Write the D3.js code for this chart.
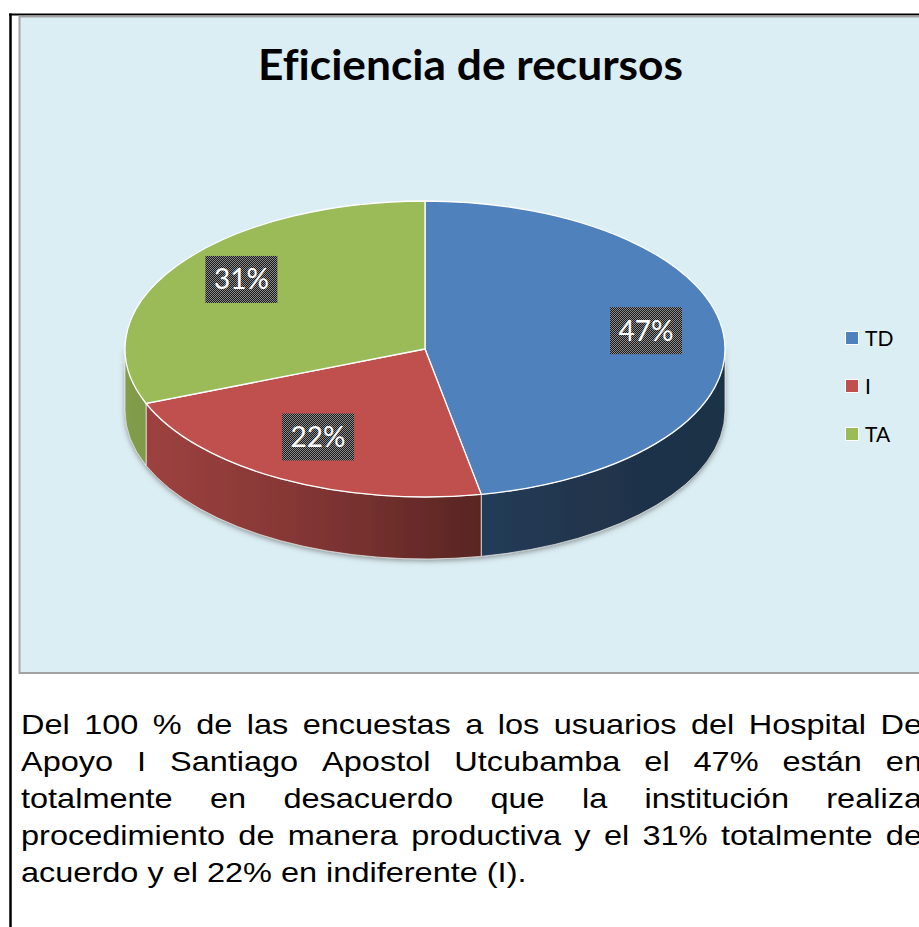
<!DOCTYPE html>
<html>
<head>
<meta charset="utf-8">
<script src="https://cdn.jsdelivr.net/npm/d3@7"></script>
<style>
  html, body { margin: 0; padding: 0; background: #ffffff; }
  svg { display: block; }
  text { font-variant-ligatures: none; }
</style>
</head>
<body>
<div id="chart"></div>
<script>
// ---- data ----
var categories = ["TD", "I", "TA"];
var values = [47, 22, 31];
var colors = ["#4F81BD", "#C0504D", "#9BBB59"];
var title = "Eficiencia de recursos";
var bodyLines = [
    "Del 100 % de las encuestas a los usuarios del Hospital De",
    "Apoyo I Santiago Apostol Utcubamba el 47% están en",
    "totalmente en desacuerdo que la institución realiza",
    "procedimiento de manera productiva y el 31% totalmente de",
    "acuerdo y el 22% en indiferente (I)."
];

var width = 919, height = 927;
var svg = d3.select("#chart").append("svg")
    .attr("width", width)
    .attr("height", height);
var defs = svg.append("defs");

// page / cell borders
svg.append("line").attr("x1", 9).attr("x2", width).attr("y1", 14.5).attr("y2", 14.5)
    .attr("stroke", "#000").attr("stroke-width", 2);
svg.append("line").attr("x1", 10.5).attr("x2", 10.5).attr("y1", 13.5).attr("y2", height)
    .attr("stroke", "#000").attr("stroke-width", 2.5);

// chart area
svg.append("rect")
    .attr("x", 19.5).attr("y", 16.5)
    .attr("width", width + 10).attr("height", 656.5)
    .attr("fill", "#DBEEF3")
    .attr("stroke", "#A3A3A3").attr("stroke-width", 2);

// title, scaled horizontally to fit the target width
var titleText = svg.append("text")
    .attr("x", 470.5).attr("y", 80)
    .attr("text-anchor", "middle")
    .attr("font-family", "Lato, 'Open Sans', sans-serif")
    .attr("font-weight", "bold")
    .attr("font-size", 41.5)
    .attr("fill", "#000")
    .text(title);
fitX(titleText, 425, 470.5);

function fitX(sel, targetW, ax) {
    var w = sel.node().getBBox().width;
    var s = targetW / w;
    sel.attr("transform", "translate(" + ax + ",0) scale(" + s + ",1) translate(" + (-ax) + ",0)");
}

function shade(c, f) {
    var r = d3.rgb(c);
    return d3.rgb(r.r * f, r.g * f, r.b * f).formatHex();
}

// ---- pie geometry ----
var cx = 425, cy = 349, rx = 300, ry = 148, depth = 62;

var pie = d3.pie().sort(null).value(function (d) { return d; })
    .startAngle(0).endAngle(2 * Math.PI);
var arcs = pie(values);

function pt(a, dy) {
    return [cx + rx * Math.sin(a), cy - ry * Math.cos(a) + (dy || 0)];
}

// side shading gradients (lighter on the left, darker on the right)
arcs.forEach(function (d, i) {
    var g = defs.append("linearGradient")
        .attr("id", "side" + i)
        .attr("gradientUnits", "userSpaceOnUse")
        .attr("x1", cx - rx).attr("x2", cx + rx)
        .attr("y1", 0).attr("y2", 0);
    [[0, 0.84], [0.3, 0.68], [0.6, 0.46], [0.8, 0.4], [1, 0.37]].forEach(function (s) {
        g.append("stop").attr("offset", s[0]).attr("stop-color", shade(colors[i], s[1]));
    });
});

// soft shadow under the pie
var shadow = defs.append("filter").attr("id", "shadow")
    .attr("x", "-10%").attr("y", "-10%").attr("width", "120%").attr("height", "130%");
shadow.append("feDropShadow")
    .attr("dx", 0).attr("dy", 2).attr("stdDeviation", 2.5)
    .attr("flood-color", "#555").attr("flood-opacity", 0.55);

// checker pattern for label boxes
var pat = defs.append("pattern").attr("id", "checker")
    .attr("patternUnits", "userSpaceOnUse").attr("width", 2).attr("height", 2);
pat.append("rect").attr("width", 2).attr("height", 2).attr("fill", "#1a1a1a");
pat.append("rect").attr("width", 1).attr("height", 1).attr("fill", "#8a8a8a");
pat.append("rect").attr("x", 1).attr("y", 1).attr("width", 1).attr("height", 1).attr("fill", "#8a8a8a");

// visible front walls
var sides = svg.append("g").attr("class", "sides").attr("filter", "url(#shadow)");
arcs.forEach(function (d, i) {
    var s = Math.max(d.startAngle, Math.PI / 2);
    var e = Math.min(d.endAngle, 3 * Math.PI / 2);
    if (e <= s) return;
    var large = (e - s) > Math.PI ? 1 : 0;
    var p0 = pt(s, 0), p1 = pt(e, 0), p2 = pt(e, depth), p3 = pt(s, depth);
    var path = "M" + p0 + " A" + rx + "," + ry + " 0 " + large + " 1 " + p1 +
        " L" + p2 + " A" + rx + "," + ry + " 0 " + large + " 0 " + p3 + " Z";
    sides.append("path")
        .attr("d", path)
        .attr("fill", "url(#side" + i + ")")
        .attr("stroke", "rgba(235,235,235,0.75)")
        .attr("stroke-width", 1);
});

// top faces
var arc = d3.arc().innerRadius(0).outerRadius(rx);
var topFaces = svg.append("g")
    .attr("class", "tops")
    .attr("transform", "translate(" + cx + "," + cy + ") scale(1," + (ry / rx) + ")");
topFaces.selectAll("path")
    .data(arcs)
    .join("path")
    .attr("d", arc)
    .attr("fill", function (d, i) { return colors[i]; })
    .attr("stroke", "#ffffff")
    .attr("stroke-width", 1.3)
    .attr("vector-effect", "non-scaling-stroke");

// data labels
var labels = svg.append("g").attr("class", "labels");
arcs.forEach(function (d, i) {
    var mid = (d.startAngle + d.endAngle) / 2;
    var x = cx + rx * 0.74 * Math.sin(mid);
    var y = cy - ry * 0.74 * Math.cos(mid) - 8;
    labels.append("rect")
        .attr("x", x - 36).attr("y", y - 23.5)
        .attr("width", 72).attr("height", 47)
        .attr("fill", "url(#checker)");
    labels.append("text")
        .attr("x", x).attr("y", y + 10)
        .attr("text-anchor", "middle")
        .attr("font-family", "Lato, 'Open Sans', sans-serif")
        .attr("font-size", 28)
        .attr("fill", "#ffffff")
        .text(d.data + "%");
});

// legend
var ly = d3.scalePoint().domain(categories).range([338, 434]);
var legend = svg.append("g").attr("class", "legend");
categories.forEach(function (c, i) {
    legend.append("rect")
        .attr("x", 845.5).attr("y", ly(c) - 6.5)
        .attr("width", 13).attr("height", 13)
        .attr("fill", colors[i])
        .attr("stroke", "#ffffff").attr("stroke-width", 1);
    legend.append("text")
        .attr("x", 865).attr("y", ly(c) + 7.5)
        .attr("font-family", "Lato, 'Open Sans', sans-serif")
        .attr("font-size", 21)
        .attr("fill", "#000")
        .text(c);
});

// justified paragraph below the chart (horizontally stretched like the source)
var sx = 1.14, fontSize = 28.5, left = 21, right = 922, base = 734, step = 37;
var body = svg.append("g")
    .attr("transform", "translate(" + left + ",0) scale(" + sx + ",1)")
    .attr("font-family", "'Liberation Sans', Arial, sans-serif")
    .attr("font-size", fontSize)
    .attr("fill", "#000");
var avail = (right - left) / sx;
bodyLines.forEach(function (line, li) {
    var y = base + li * step;
    if (li === bodyLines.length - 1) {
        body.append("text").attr("x", 0).attr("y", y).attr("xml:space", "preserve").text(line);
        return;
    }
    var words = line.split(" ");
    var nodes = words.map(function (w) {
        return body.append("text").attr("y", y).text(w);
    });
    var widths = nodes.map(function (n) { return n.node().getComputedTextLength(); });
    var gap = (avail - d3.sum(widths)) / (words.length - 1);
    var x = 0;
    nodes.forEach(function (n, k) {
        n.attr("x", x);
        x += widths[k] + gap;
    });
});
</script>
</body>
</html>
